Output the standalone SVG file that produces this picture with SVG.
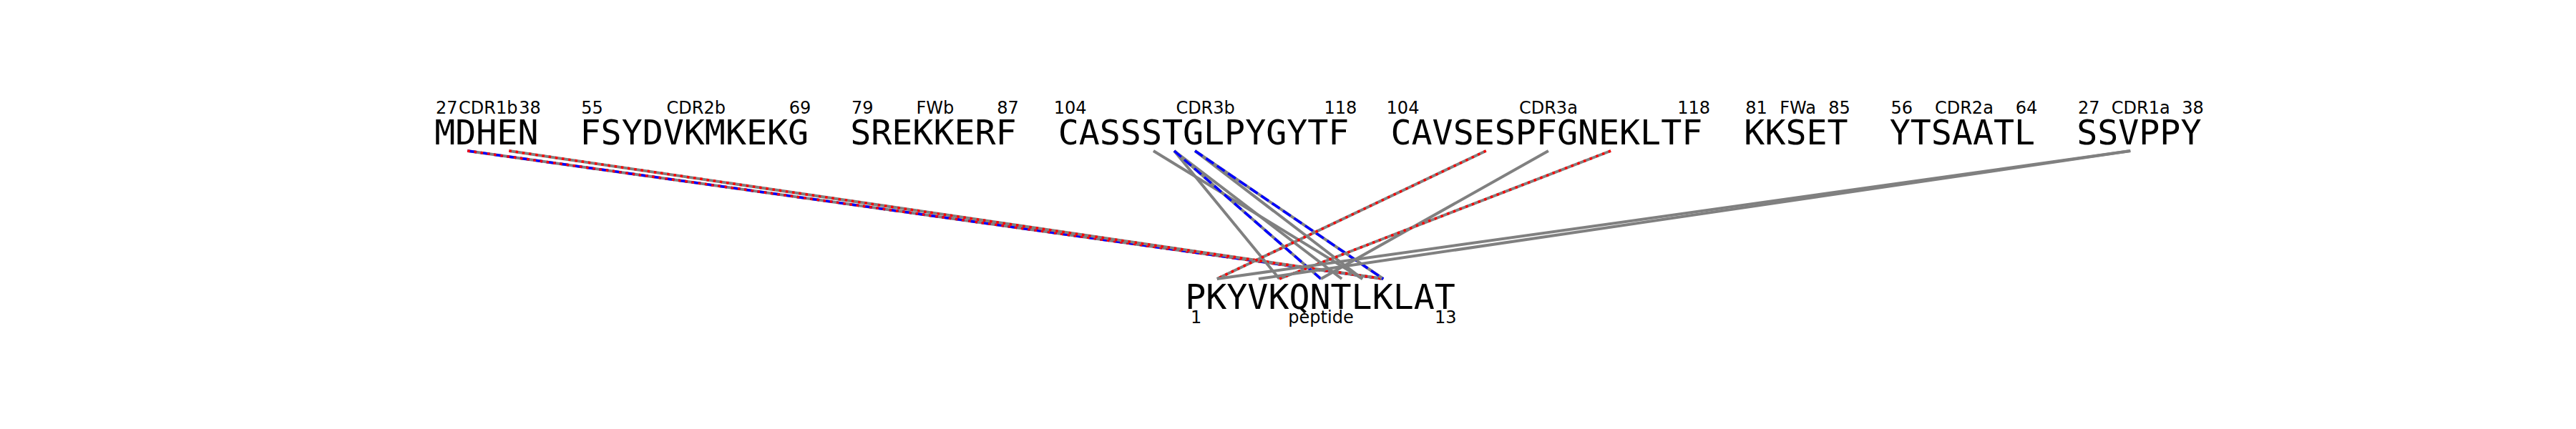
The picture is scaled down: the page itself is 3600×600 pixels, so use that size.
<svg xmlns="http://www.w3.org/2000/svg" width="3600" height="600" viewBox="0 0 3600 600">
<style>
.seq{font-family:"DejaVu Sans Mono","Liberation Mono",monospace;font-size:48.25px;fill:#000}
.lbl{font-family:"DejaVu Sans","Liberation Sans",sans-serif;font-size:24px;fill:#000;text-anchor:middle}
.c{stroke:#808080;stroke-width:4;fill:none}
.hb{stroke:#0000ff;stroke-width:3.5;stroke-dasharray:13 5.6;fill:none}
.sb{stroke:#ff0000;stroke-width:3.5;stroke-dasharray:3.5 5.8;fill:none}
</style>
<rect width="3600" height="600" fill="#fff"/>
<g id="connectors">
<line class="c" x1="653.3" y1="211" x2="1933.2" y2="390"/>
<line class="hb" x1="653.3" y1="211" x2="1933.2" y2="390"/>
<line class="sb" x1="653.3" y1="211" x2="1933.2" y2="390"/>
<line class="c" x1="711.4" y1="211" x2="1933.2" y2="390"/>
<line class="sb" x1="711.4" y1="211" x2="1933.2" y2="390"/>
<line class="c" x1="1611.9" y1="211" x2="1904.1" y2="390"/>
<line class="c" x1="1641" y1="211" x2="1787.9" y2="390"/>
<line class="c" x1="1641" y1="211" x2="1875.1" y2="390"/>
<line class="c" x1="1670" y1="211" x2="1904.1" y2="390"/>
<line class="c" x1="1641" y1="211" x2="1846" y2="390"/>
<line class="hb" x1="1641" y1="211" x2="1846" y2="390"/>
<line class="c" x1="1670" y1="211" x2="1933.2" y2="390"/>
<line class="hb" x1="1670" y1="211" x2="1933.2" y2="390"/>
<line class="c" x1="2076.7" y1="211" x2="1700.8" y2="390"/>
<line class="sb" x1="2076.7" y1="211" x2="1700.8" y2="390"/>
<line class="c" x1="2163.9" y1="211" x2="1846" y2="390"/>
<line class="c" x1="2251" y1="211" x2="1787.9" y2="390"/>
<line class="sb" x1="2251" y1="211" x2="1787.9" y2="390"/>
<line class="c" x1="2977.3" y1="211" x2="1700.8" y2="390"/>
<line class="c" x1="2977.3" y1="211" x2="1758.9" y2="390"/>
</g>
<g id="CDR1b">
<text class="seq" x="607.2" y="202">MDHEN</text>
<text class="lbl" x="624.2" y="159">27</text><text class="lbl" x="682.3" y="159">CDR1b</text><text class="lbl" x="740.4" y="159">38</text>
</g>
<g id="CDR2b">
<text class="seq" x="810.55" y="202">FSYDVKMKEKG</text>
<text class="lbl" x="827.6" y="159">55</text><text class="lbl" x="972.8" y="159">CDR2b</text><text class="lbl" x="1118" y="159">69</text>
</g>
<g id="FWb">
<text class="seq" x="1188.2" y="202">SREKKERF</text>
<text class="lbl" x="1205.2" y="159">79</text><text class="lbl" x="1306.9" y="159">FWb</text><text class="lbl" x="1408.6" y="159">87</text>
</g>
<g id="CDR3b">
<text class="seq" x="1478.7" y="202">CASSSTGLPYGYTF</text>
<text class="lbl" x="1495.7" y="159">104</text><text class="lbl" x="1684.6" y="159">CDR3b</text><text class="lbl" x="1873.4" y="159">118</text>
</g>
<g id="CDR3a">
<text class="seq" x="1943.5" y="202">CAVSESPFGNEKLTF</text>
<text class="lbl" x="1960.5" y="159">104</text><text class="lbl" x="2163.9" y="159">CDR3a</text><text class="lbl" x="2367.2" y="159">118</text>
</g>
<g id="FWa">
<text class="seq" x="2437.35" y="202">KKSET</text>
<text class="lbl" x="2454.4" y="159">81</text><text class="lbl" x="2512.5" y="159">FWa</text><text class="lbl" x="2570.6" y="159">85</text>
</g>
<g id="CDR2a">
<text class="seq" x="2640.7" y="202">YTSAATL</text>
<text class="lbl" x="2657.7" y="159">56</text><text class="lbl" x="2744.9" y="159">CDR2a</text><text class="lbl" x="2832" y="159">64</text>
</g>
<g id="CDR1a">
<text class="seq" x="2902.15" y="202">SSVPPY</text>
<text class="lbl" x="2919.2" y="159">27</text><text class="lbl" x="2991.8" y="159">CDR1a</text><text class="lbl" x="3064.4" y="159">38</text>
</g>
<g id="peptide">
<text class="seq" x="1656.2" y="432">PKYVKQNTLKLAT</text>
<text class="lbl" x="1671.7" y="452">1</text><text class="lbl" x="1846" y="452">peptide</text><text class="lbl" x="2020.3" y="452">13</text>
</g>
</svg>
